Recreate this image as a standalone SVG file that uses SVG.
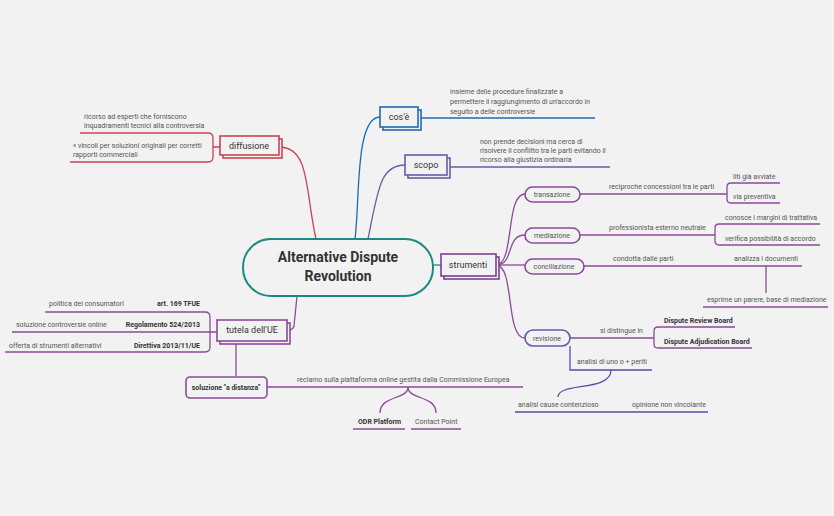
<svg xmlns="http://www.w3.org/2000/svg" width="834" height="516" viewBox="0 0 834 516">
<style>
text{font-family:Roboto,"Liberation Sans",sans-serif;fill:#555;font-size:7px}
.b{font-weight:bold;fill:#333}
.m{font-size:9px;fill:#333;text-anchor:middle}
.p{fill:none;stroke-width:1.3}
.n{fill:#f2f2f2;stroke-width:1.6}
</style>
<rect width="834" height="516" fill="#f2f2f2"/>
<g id="connectors" class="p">
<path d="M355 239 C360 200,355 117,380 117" stroke="#1f6bb0"/>
<path d="M418 118 H595" stroke="#1f6bb0"/>
<path d="M368 239 C378 190,380 165,405 165" stroke="#6a5aa8"/>
<path d="M447 167 H610" stroke="#6a5aa8"/>
<path d="M316 239 C305 190,310 147,279 147" stroke="#c94455"/>
<path d="M220 147 H213 M80 133 H208 Q213 133 213 138 V157 Q213 162 208 162 H70" stroke="#c94455"/>
<path d="M433 265 H441" stroke="#1a8a82"/>
<path d="M297 296 L294 326 Q293 330 288 330" stroke="#8a4a9a"/>
<g stroke="#8a4a9a">
<path d="M496 265 C515 265,505 194,525 194"/>
<path d="M496 265 C515 265,505 235,525 235"/>
<path d="M496 265 H525"/>
<path d="M496 265 C515 265,505 338,525 338"/>
<path d="M580 194 H727 M780 183 H731 Q727 183 727 187 V199 Q727 203 731 203 H780"/>
<path d="M580 235 H715 M820 224 H719 Q715 224 715 228 V241 Q715 245 719 245 H820"/>
<path d="M584 266 H802 M766 266 V293 M703 307 H828"/>
<path d="M570 338 H654 M735 327 H658 Q654 327 654 331 V344 Q654 348 658 348 H752"/>
<path d="M45 312 H205 Q210 312 210 317 V347 Q210 352 205 352 H5 M12 332 H217"/>
<path d="M236 343 V376"/>
<path d="M267 387 H523 M408 387 C408 400,380 395,380 413 M408 387 C408 400,436 395,436 413 M353 429 H405 M411 429 H461"/>
</g>
<g stroke="#5a4aa8">
<path d="M570 346 V370 H652 M611 370 C611 392,558 382,558 397 M515 412 H708"/>
</g>
</g>
<g id="center"><rect x="243" y="239" width="190" height="57" rx="28" fill="#f2f2f2" stroke="#1a8a82" stroke-width="2"/>
<text x="338" y="262" class="b" style="font-size:14px;text-anchor:middle">Alternative Dispute</text>
<text x="338" y="281" class="b" style="font-size:14px;text-anchor:middle">Revolution</text></g>
<g id="cose"><rect x="383" y="110" width="38" height="20" class="n" stroke="#1f6bb0"/><rect x="380" y="107" width="38" height="20" class="n" stroke="#1f6bb0"/><text x="399" y="120" class="m">cos'è</text>
<text x="450" y="94">insieme delle procedure finalizzate a</text><text x="450" y="104">permettere il raggiungimento di un'accordo in</text><text x="450" y="114">seguito a delle controversie</text></g>
<g id="scopo"><rect x="408" y="158" width="42" height="20" class="n" stroke="#6a5aa8"/><rect x="405" y="155" width="42" height="20" class="n" stroke="#6a5aa8"/><text x="426" y="168" class="m">scopo</text>
<text x="480" y="144">non prende decisioni ma cerca di</text><text x="480" y="153">risolvere il conflitto tra le parti evitando il</text><text x="480" y="162">ricorso alla giustizia ordinaria</text></g>
<g id="diffusione"><rect x="223" y="139" width="59" height="19" class="n" stroke="#c94455"/><rect x="220" y="136" width="59" height="19" class="n" stroke="#c94455"/><text x="249" y="149" class="m">diffusione</text>
<text x="84" y="119">ricorso ad esperti che forniscono</text><text x="84" y="128">inquadramenti tecnici alla controversia</text>
<text x="73" y="148">« vincoli per soluzioni originali per corretti</text><text x="73" y="157">rapporti commerciali</text></g>
<g id="strumenti"><rect x="444" y="257" width="55" height="22" class="n" stroke="#7a3f93"/><rect x="441" y="254" width="55" height="22" class="n" stroke="#7a3f93"/><text x="468" y="268" class="m">strumenti</text></g>
<g id="transazione"><rect x="525" y="187" width="55" height="15" rx="7.5" class="n" stroke="#8a4a9a" stroke-width="1.2"/><text x="552" y="197" style="text-anchor:middle">transazione</text>
<text x="609" y="189">reciproche concessioni tra le parti</text><text x="733" y="179">liti già avviate</text><text x="733" y="199">via preventiva</text></g>
<g id="mediazione"><rect x="525" y="228" width="55" height="15" rx="7.5" class="n" stroke="#8a4a9a" stroke-width="1.2"/><text x="552" y="238" style="text-anchor:middle">mediazione</text>
<text x="609" y="230">professionista esterno neutrale</text><text x="725" y="220">conosce i margini di trattativa</text><text x="725" y="241">verifica possibilità di accordo</text></g>
<g id="conciliazione"><rect x="525" y="259" width="59" height="15" rx="7.5" class="n" stroke="#8a4a9a" stroke-width="1.2"/><text x="554" y="269" style="text-anchor:middle">conciliazione</text>
<text x="613" y="261">condotta dalle parti</text><text x="734" y="261">analizza i documenti</text><text x="707" y="302">esprime un parere, base di mediazione</text></g>
<g id="revisione"><rect x="525" y="330" width="45" height="16" rx="8" class="n" stroke="#6a5aa8" stroke-width="1.2"/><text x="547" y="341" style="text-anchor:middle">revisione</text>
<text x="600" y="333">si distingue in</text><text x="664" y="323" class="b">Dispute Review Board</text><text x="664" y="344" class="b">Dispute Adjudication Board</text>
<text x="577" y="364">analisi di uno o + periti</text><text x="518" y="407">analisi cause contenzioso</text><text x="632" y="407">opinione non vincolante</text></g>
<g id="tutela"><rect x="220" y="323" width="70" height="21" class="n" stroke="#8a4a9a"/><rect x="217" y="320" width="70" height="21" class="n" stroke="#8a4a9a"/><text x="252" y="333" class="m">tutela dell'UE</text>
<text x="49" y="306">politica dei consumatori</text><text x="200" y="306" class="b" text-anchor="end">art. 169 TFUE</text>
<text x="16" y="327">soluzione controversie online</text><text x="200" y="327" class="b" text-anchor="end">Regolamento 524/2013</text>
<text x="9" y="348">offerta di strumenti alternativi</text><text x="200" y="348" class="b" text-anchor="end">Direttiva 2013/11/UE</text></g>
<g id="distanza"><rect x="186" y="377" width="81" height="21" rx="4" class="n" stroke="#8a4a9a"/><text x="226" y="390" class="b" text-anchor="middle">soluzione "a distanza"</text>
<text x="297" y="382">reclamo sulla piattaforma online gestita dalla Commissione Europea</text>
<text x="358" y="424" class="b">ODR Platform</text><text x="415" y="424">Contact Point</text></g>
</svg>
